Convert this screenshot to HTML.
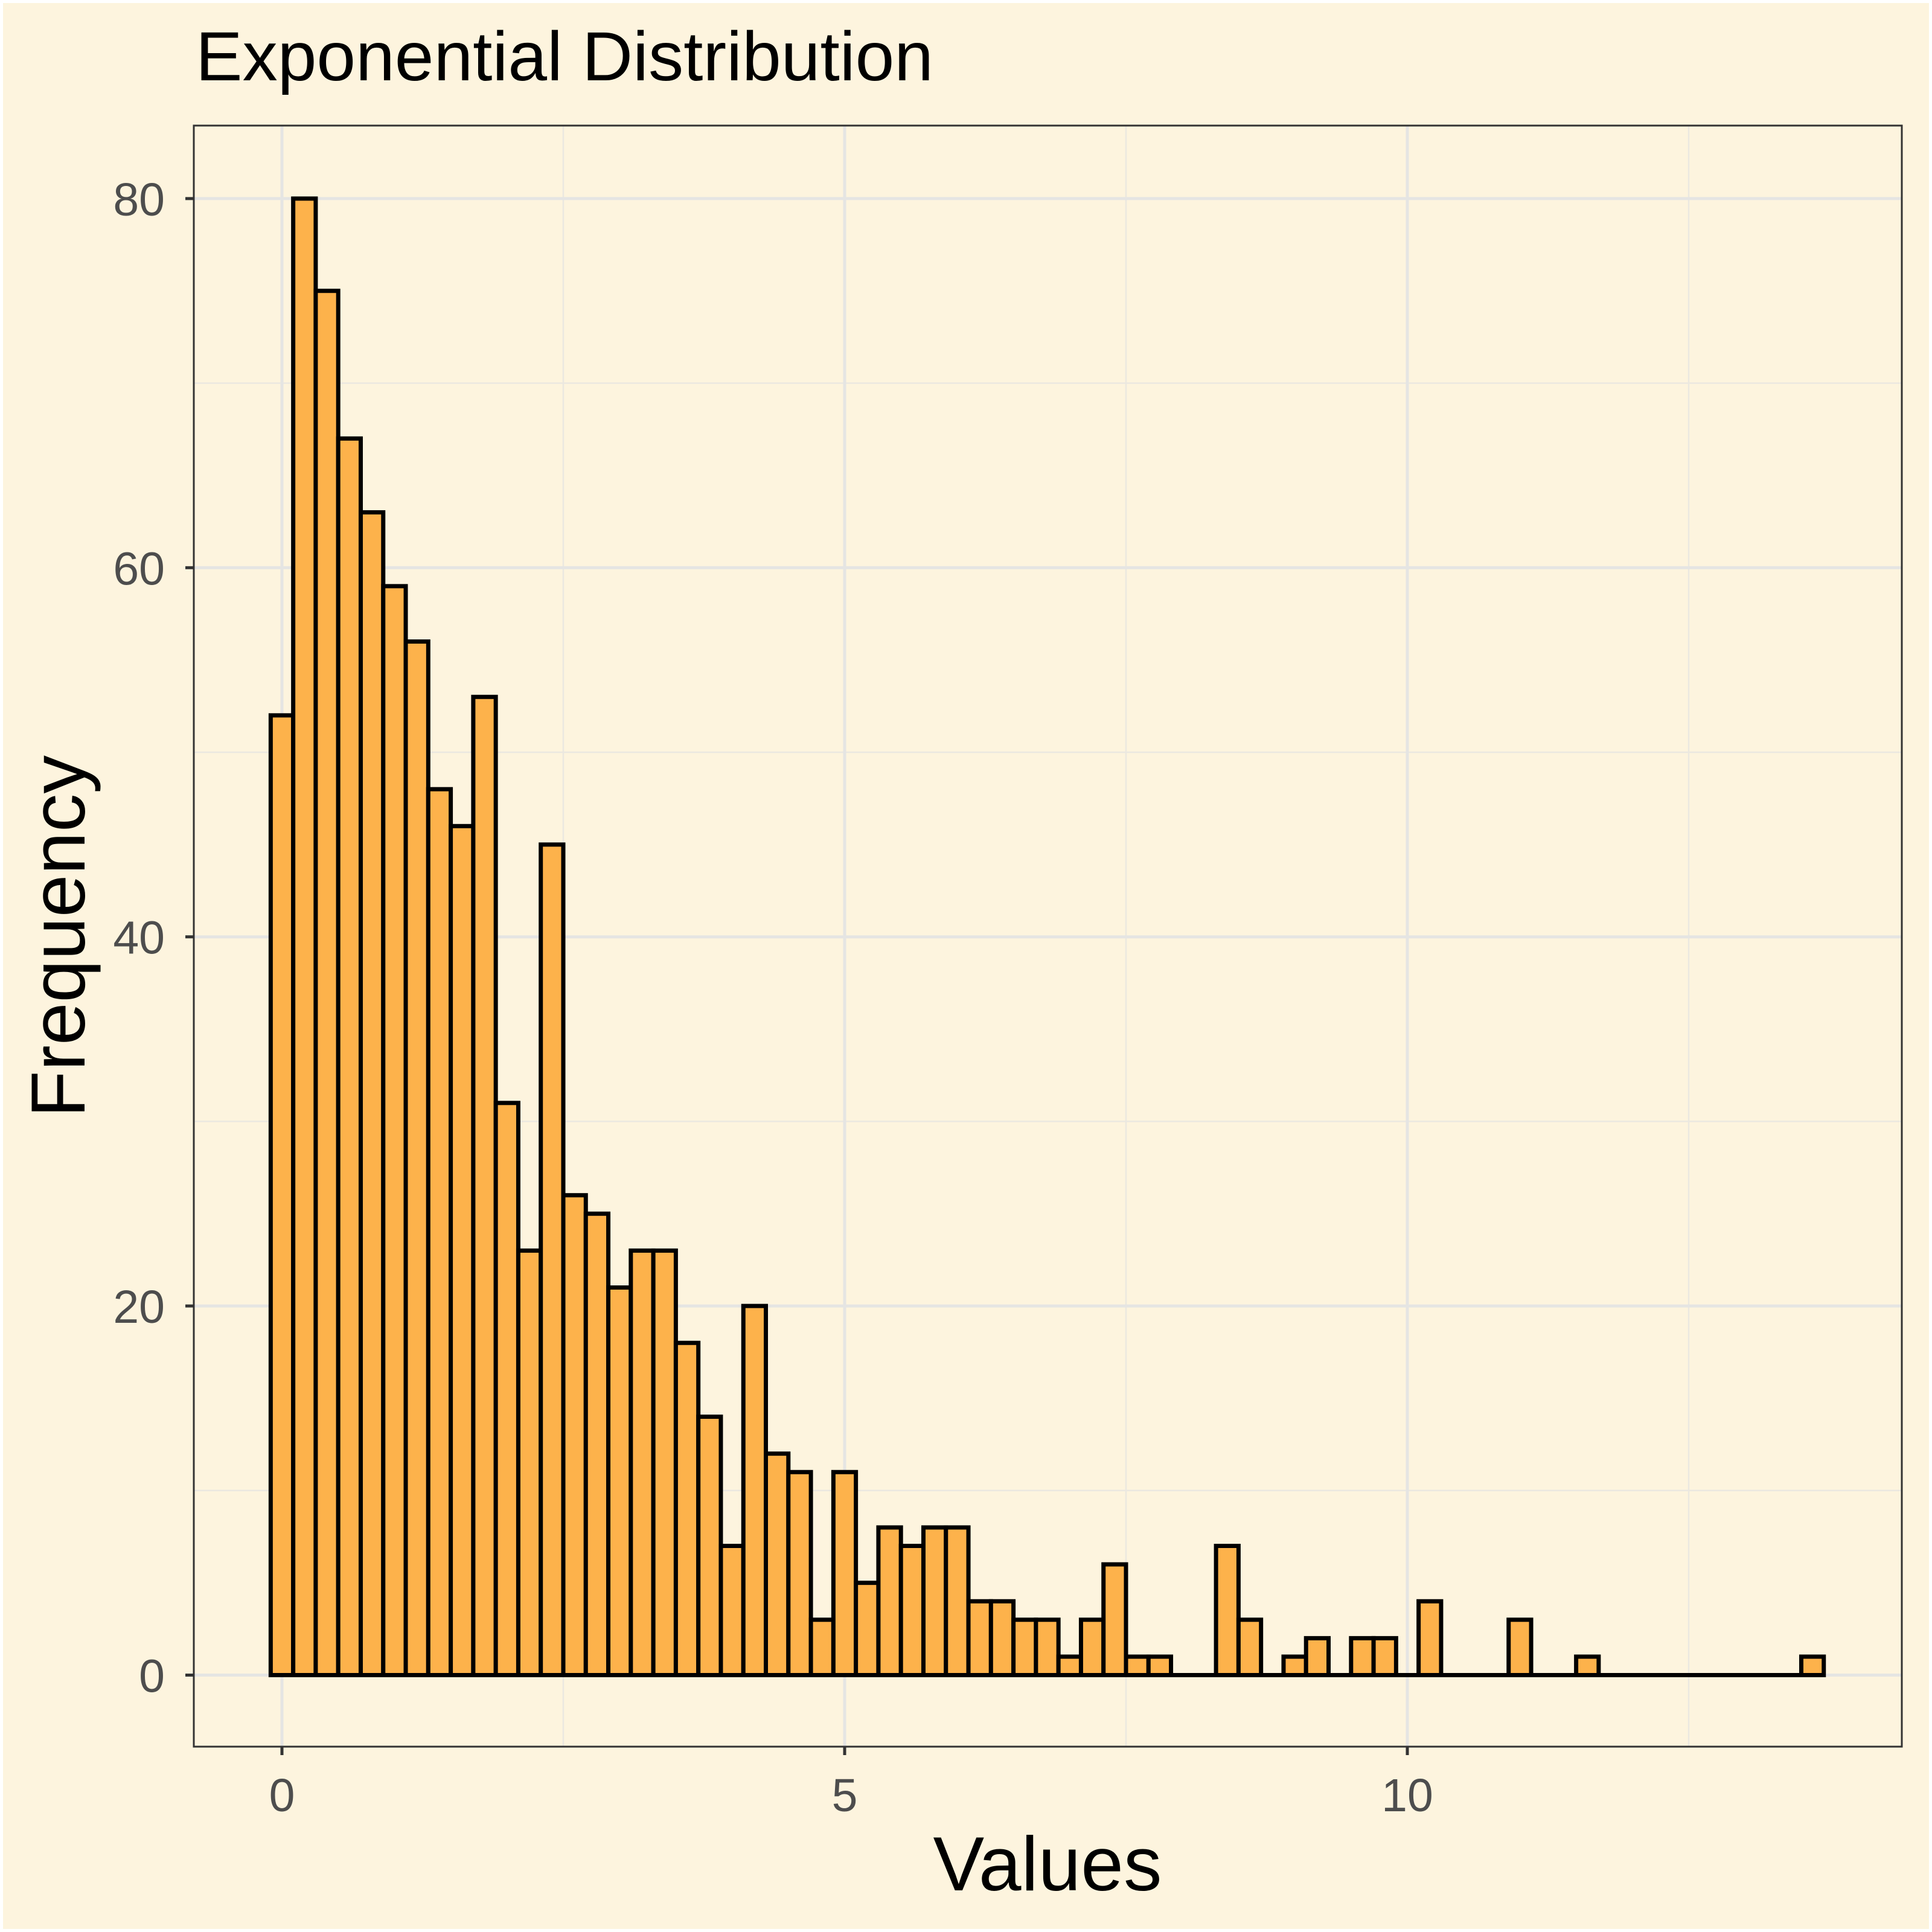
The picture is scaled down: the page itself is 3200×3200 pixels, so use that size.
<!DOCTYPE html>
<html><head><meta charset="utf-8"><style>
html,body{margin:0;padding:0;background:#fff;}
svg{display:block;}
</style></head><body>
<svg xmlns="http://www.w3.org/2000/svg" width="3200" height="3200" viewBox="0 0 3200 3200" font-family="Liberation Sans, Arial, sans-serif">
<rect x="0" y="0" width="3200" height="3200" fill="#ffffff"/>
<rect x="5" y="5" width="3190" height="3190" fill="#fdf4de"/>
<g stroke="#ebe8e0" stroke-width="2.5">
<line x1="933" x2="933" y1="208" y2="2893"/>
<line x1="1865" x2="1865" y1="208" y2="2893"/>
<line x1="2797" x2="2797" y1="208" y2="2893"/>
<line x1="321" x2="3150" y1="2468.8" y2="2468.8"/>
<line x1="321" x2="3150" y1="1857.4" y2="1857.4"/>
<line x1="321" x2="3150" y1="1246" y2="1246"/>
<line x1="321" x2="3150" y1="634.6" y2="634.6"/>
</g>
<g stroke="#e5e5e3" stroke-width="5">
<line x1="467" x2="467" y1="208" y2="2893"/>
<line x1="1399" x2="1399" y1="208" y2="2893"/>
<line x1="2331" x2="2331" y1="208" y2="2893"/>
<line x1="321" x2="3150" y1="2774.5" y2="2774.5"/>
<line x1="321" x2="3150" y1="2163.1" y2="2163.1"/>
<line x1="321" x2="3150" y1="1551.7" y2="1551.7"/>
<line x1="321" x2="3150" y1="940.3" y2="940.3"/>
<line x1="321" x2="3150" y1="328.9" y2="328.9"/>
</g>
<g fill="#fdb24b" stroke="#000" stroke-width="7">
<rect x="448.36" y="1184.86" width="37.28" height="1589.64"/>
<rect x="485.64" y="328.9" width="37.28" height="2445.6"/>
<rect x="522.92" y="481.75" width="37.28" height="2292.75"/>
<rect x="560.20" y="726.31" width="37.28" height="2048.19"/>
<rect x="597.48" y="848.59" width="37.28" height="1925.91"/>
<rect x="634.76" y="970.87" width="37.28" height="1803.63"/>
<rect x="672.04" y="1062.58" width="37.28" height="1711.92"/>
<rect x="709.32" y="1307.14" width="37.28" height="1467.36"/>
<rect x="746.60" y="1368.28" width="37.28" height="1406.22"/>
<rect x="783.88" y="1154.29" width="37.28" height="1620.21"/>
<rect x="821.16" y="1826.83" width="37.28" height="947.67"/>
<rect x="858.44" y="2071.39" width="37.28" height="703.11"/>
<rect x="895.72" y="1398.85" width="37.28" height="1375.65"/>
<rect x="933.00" y="1979.68" width="37.28" height="794.82"/>
<rect x="970.28" y="2010.25" width="37.28" height="764.25"/>
<rect x="1007.56" y="2132.53" width="37.28" height="641.97"/>
<rect x="1044.84" y="2071.39" width="37.28" height="703.11"/>
<rect x="1082.12" y="2071.39" width="37.28" height="703.11"/>
<rect x="1119.40" y="2224.24" width="37.28" height="550.26"/>
<rect x="1156.68" y="2346.52" width="37.28" height="427.98"/>
<rect x="1193.96" y="2560.51" width="37.28" height="213.99"/>
<rect x="1231.24" y="2163.1" width="37.28" height="611.4"/>
<rect x="1268.52" y="2407.66" width="37.28" height="366.84"/>
<rect x="1305.80" y="2438.23" width="37.28" height="336.27"/>
<rect x="1343.08" y="2682.79" width="37.28" height="91.71"/>
<rect x="1380.36" y="2438.23" width="37.28" height="336.27"/>
<rect x="1417.64" y="2621.65" width="37.28" height="152.85"/>
<rect x="1454.92" y="2529.94" width="37.28" height="244.56"/>
<rect x="1492.20" y="2560.51" width="37.28" height="213.99"/>
<rect x="1529.48" y="2529.94" width="37.28" height="244.56"/>
<rect x="1566.76" y="2529.94" width="37.28" height="244.56"/>
<rect x="1604.04" y="2652.22" width="37.28" height="122.28"/>
<rect x="1641.32" y="2652.22" width="37.28" height="122.28"/>
<rect x="1678.60" y="2682.79" width="37.28" height="91.71"/>
<rect x="1715.88" y="2682.79" width="37.28" height="91.71"/>
<rect x="1753.16" y="2743.93" width="37.28" height="30.57"/>
<rect x="1790.44" y="2682.79" width="37.28" height="91.71"/>
<rect x="1827.72" y="2591.08" width="37.28" height="183.42"/>
<rect x="1865.00" y="2743.93" width="37.28" height="30.57"/>
<rect x="1902.28" y="2743.93" width="37.28" height="30.57"/>
<rect x="2014.12" y="2560.51" width="37.28" height="213.99"/>
<rect x="2051.40" y="2682.79" width="37.28" height="91.71"/>
<rect x="2125.96" y="2743.93" width="37.28" height="30.57"/>
<rect x="2163.24" y="2713.36" width="37.28" height="61.14"/>
<rect x="2237.80" y="2713.36" width="37.28" height="61.14"/>
<rect x="2275.08" y="2713.36" width="37.28" height="61.14"/>
<rect x="2349.64" y="2652.22" width="37.28" height="122.28"/>
<rect x="2498.76" y="2682.79" width="37.28" height="91.71"/>
<rect x="2610.60" y="2743.93" width="37.28" height="30.57"/>
<rect x="2983.48" y="2743.93" width="37.28" height="30.57"/>
</g>
<line x1="445" x2="3024" y1="2774.5" y2="2774.5" stroke="#000" stroke-width="7"/>
<rect x="321" y="208" width="2829" height="2685" fill="none" stroke="#333" stroke-width="3"/>
<g stroke="#333" stroke-width="5">
<line x1="467" x2="467" y1="2893" y2="2907"/>
<line x1="1399" x2="1399" y1="2893" y2="2907"/>
<line x1="2331" x2="2331" y1="2893" y2="2907"/>
<line x1="307" x2="321" y1="2774.5" y2="2774.5"/>
<line x1="307" x2="321" y1="2163.1" y2="2163.1"/>
<line x1="307" x2="321" y1="1551.7" y2="1551.7"/>
<line x1="307" x2="321" y1="940.3" y2="940.3"/>
<line x1="307" x2="321" y1="328.9" y2="328.9"/>
</g>
<g font-size="77" fill="#4d4d4d">
<text x="467" y="3000" text-anchor="middle">0</text>
<text x="1399" y="3000" text-anchor="middle">5</text>
<text x="2331" y="3000" text-anchor="middle">10</text>
<text x="273" y="2802.5" text-anchor="end">0</text>
<text x="273" y="2191.1" text-anchor="end">20</text>
<text x="273" y="1579.7" text-anchor="end">40</text>
<text x="273" y="968.3" text-anchor="end">60</text>
<text x="273" y="356.9" text-anchor="end">80</text>
</g>
<text x="324" y="133" font-size="115" fill="#000" textLength="1222" lengthAdjust="spacingAndGlyphs">Exponential Distribution</text>
<text x="1735" y="3131" font-size="127" fill="#000" text-anchor="middle">Values</text>
<text transform="translate(140,1551) rotate(-90)" font-size="127" fill="#000" text-anchor="middle">Frequency</text>
</svg>
</body></html>
